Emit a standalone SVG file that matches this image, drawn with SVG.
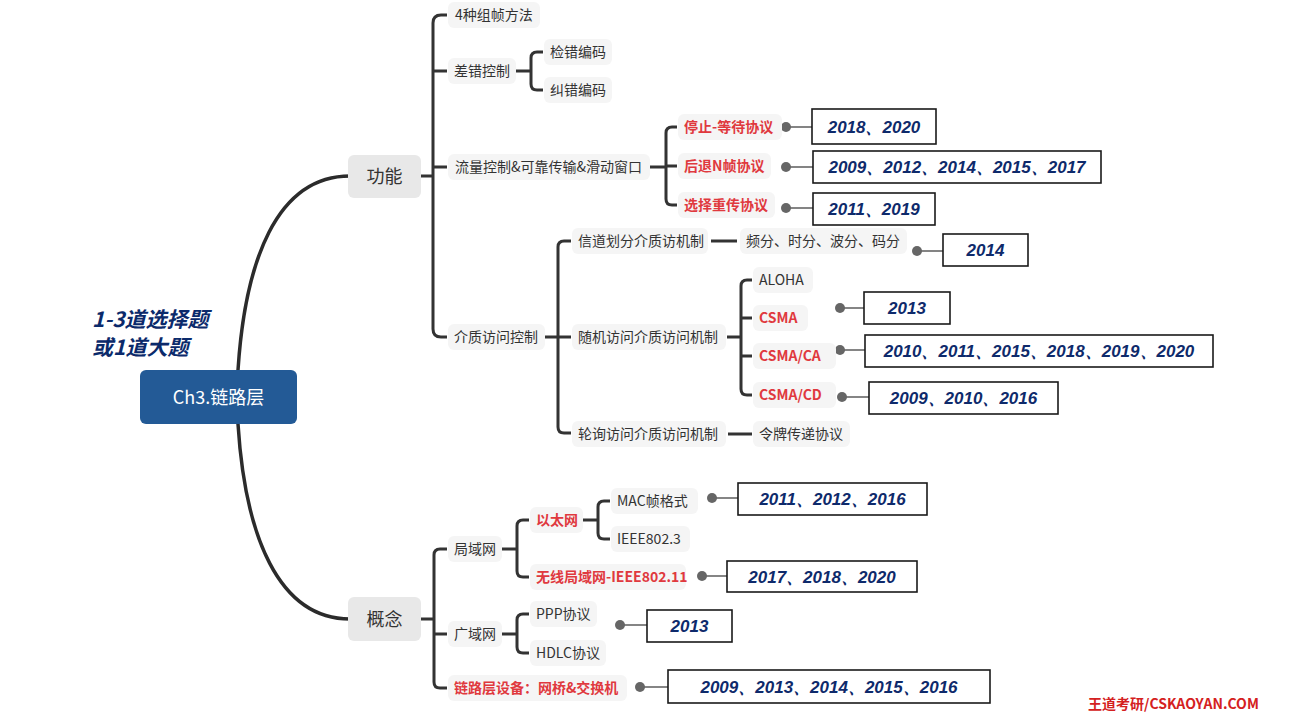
<svg xmlns="http://www.w3.org/2000/svg" width="1314" height="712" viewBox="0 0 1314 712">
<style>
text{font-family:"Noto Sans CJK SC","Liberation Sans",sans-serif}
.lb{fill:#f5f5f5}
.t{font-size:14px;fill:#333}
.r{font-size:14px;fill:#e0393e;font-weight:bold}
.mid{font-size:18px;fill:#333}
.br{fill:none;stroke:#333;stroke-width:3;stroke-linejoin:round}
.trunk{fill:none;stroke:#2b2b2b;stroke-width:3.5}
.dl{stroke:#666;stroke-width:1.6}
.dot{fill:#666}
.yb{fill:#fff;stroke:#1a1a1a;stroke-width:1.6}
.yt{font-family:"Liberation Sans",sans-serif;font-size:17px;font-weight:bold;font-style:italic;fill:#0e2a6b;text-anchor:middle}
</style>
<rect width="1314" height="712" fill="#fff"/>
<g id="connectors">
<path class="trunk" d="M238,370 C245,262 276,176 350,176"/>
<path class="trunk" d="M238,424 C245,535 278,619 350,619"/>
<path class="br" d="M421,176 H433 M447,15 H441 Q433,15 433,23 V329 Q433,337 441,337 H447 M433,71 H447 M433,167 H447"/>
<path class="br" d="M516,71 H531 M543,52 H537 Q531,52 531,58 V84 Q531,90 537,90 H543"/>
<path class="br" d="M650,167 H666 M677,127 H672 Q666,127 666,133 V199 Q666,205 672,205 H677 M666,166 H677"/>
<path class="br" d="M545,337 H558 M571,241 H564 Q558,241 558,247 V427 Q558,433 564,433 H571 M558,337 H571"/>
<path class="br" d="M711,241 H737"/>
<path class="br" d="M727,337 H741 M752,280 H747 Q741,280 741,286 V389 Q741,395 747,395 H752 M741,318 H752 M741,356 H752"/>
<path class="br" d="M728,434 H752"/>
<path class="br" d="M421,619 H434 M447,549 H440 Q434,549 434,555 V682 Q434,688 440,688 H447 M434,634 H447"/>
<path class="br" d="M502,549 H517 M529,520 H523 Q517,520 517,526 V571 Q517,577 523,577 H529"/>
<path class="br" d="M583,520 H598 M610,501 H604 Q598,501 598,507 V533 Q598,539 604,539 H610"/>
<path class="br" d="M502,634 H517 M529,614 H523 Q517,614 517,620 V647 Q517,653 523,653 H529"/>
<g>
<line class="dl" x1="786" y1="127" x2="812" y2="127"/><circle class="dot" cx="786" cy="127" r="5"/>
<line class="dl" x1="786" y1="167" x2="813" y2="167"/><circle class="dot" cx="786" cy="167" r="5"/>
<line class="dl" x1="786" y1="208" x2="813" y2="208"/><circle class="dot" cx="786" cy="208" r="5"/>
<line class="dl" x1="917" y1="251" x2="943" y2="251"/><circle class="dot" cx="917" cy="251" r="5"/>
<line class="dl" x1="840" y1="308" x2="864" y2="308"/><circle class="dot" cx="840" cy="308" r="5"/>
<line class="dl" x1="840" y1="350" x2="865" y2="350"/><circle class="dot" cx="840" cy="350" r="5"/>
<line class="dl" x1="842" y1="397" x2="869" y2="397"/><circle class="dot" cx="842" cy="397" r="5"/>
<line class="dl" x1="712" y1="498" x2="738" y2="498"/><circle class="dot" cx="712" cy="498" r="5"/>
<line class="dl" x1="702" y1="576" x2="727" y2="576"/><circle class="dot" cx="702" cy="576" r="5"/>
<line class="dl" x1="620" y1="625" x2="647" y2="625"/><circle class="dot" cx="620" cy="625" r="5"/>
<line class="dl" x1="640" y1="687" x2="668" y2="687"/><circle class="dot" cx="640" cy="687" r="5"/>
</g>
</g>
<g id="root"><rect x="140" y="370" width="157" height="54" rx="6" fill="#235a96"/><text x="218.5" y="403.5" font-size="18" fill="#fff" text-anchor="middle">Ch3.链路层</text></g>
<g id="note"><text x="92" y="327" font-size="21" font-weight="bold" font-style="italic" fill="#0b2a6b">1-3道选择题</text><text x="92" y="355" font-size="21" font-weight="bold" font-style="italic" fill="#0b2a6b">或1道大题</text></g>
<g id="gongneng"><rect x="348" y="155" width="73" height="43" rx="6" fill="#e8e8e8"/><text class="mid" x="384.5" y="182.5" text-anchor="middle">功能</text></g>
<g id="gainian"><rect x="348" y="597" width="73" height="44" rx="6" fill="#e8e8e8"/><text class="mid" x="384.5" y="625.5" text-anchor="middle">概念</text></g>
<g id="f1"><rect class="lb" x="448" y="2" width="92" height="26" rx="6"/><text class="t" x="455" y="20">4种组帧方法</text></g>
<g id="f2"><rect class="lb" x="448" y="58" width="68" height="26" rx="6"/><text class="t" x="454" y="76">差错控制</text></g>
<g id="f2a"><rect class="lb" x="544" y="39" width="68" height="26" rx="6"/><text class="t" x="550" y="57">检错编码</text></g>
<g id="f2b"><rect class="lb" x="544" y="77" width="68" height="26" rx="6"/><text class="t" x="550" y="95">纠错编码</text></g>
<g id="f3"><rect class="lb" x="448" y="154" width="202" height="26" rx="6"/><text class="t" x="455" y="172">流量控制&amp;可靠传输&amp;滑动窗口</text></g>
<g id="f3a"><rect class="lb" x="678" y="114" width="104" height="26" rx="6"/><text class="r" x="684" y="132">停止-等待协议</text></g>
<g id="f3b"><rect class="lb" x="678" y="153" width="93" height="26" rx="6"/><text class="r" x="684" y="171">后退N帧协议</text></g>
<g id="f3c"><rect class="lb" x="678" y="192" width="97" height="26" rx="6"/><text class="r" x="684" y="210">选择重传协议</text></g>
<g id="f4"><rect class="lb" x="448" y="324" width="97" height="26" rx="6"/><text class="t" x="454" y="342">介质访问控制</text></g>
<g id="f4a"><rect class="lb" x="572" y="228" width="136" height="26" rx="6"/><text class="t" x="578" y="246">信道划分介质访机制</text></g>
<g id="f4a1"><rect class="lb" x="740" y="228" width="167" height="26" rx="6"/><text class="t" x="746" y="246">频分、时分、波分、码分</text></g>
<g id="f4b"><rect class="lb" x="572" y="324" width="154" height="26" rx="6"/><text class="t" x="578" y="342">随机访问介质访问机制</text></g>
<g id="f4b1"><rect class="lb" x="753" y="267" width="60" height="26" rx="6"/><text class="t" x="759" y="285">ALOHA</text></g>
<g id="f4b2"><rect class="lb" x="753" y="305" width="55" height="26" rx="6"/><text class="r" x="759" y="323">CSMA</text></g>
<g id="f4b3"><rect class="lb" x="753" y="343" width="83" height="26" rx="6"/><text class="r" x="759" y="361">CSMA/CA</text></g>
<g id="f4b4"><rect class="lb" x="753" y="382" width="83" height="26" rx="6"/><text class="r" x="759" y="400">CSMA/CD</text></g>
<g id="f4c"><rect class="lb" x="572" y="421" width="154" height="26" rx="6"/><text class="t" x="578" y="439">轮询访问介质访问机制</text></g>
<g id="f4c1"><rect class="lb" x="753" y="421" width="97" height="26" rx="6"/><text class="t" x="759" y="439">令牌传递协议</text></g>
<g id="c1"><rect class="lb" x="448" y="536" width="54" height="26" rx="6"/><text class="t" x="454" y="554">局域网</text></g>
<g id="c1a"><rect class="lb" x="530" y="507" width="53" height="26" rx="6"/><text class="r" x="536" y="525">以太网</text></g>
<g id="c1a1"><rect class="lb" x="611" y="488" width="87" height="26" rx="6"/><text class="t" x="617" y="506">MAC帧格式</text></g>
<g id="c1a2"><rect class="lb" x="611" y="526" width="79" height="26" rx="6"/><text class="t" x="617" y="544">IEEE802.3</text></g>
<g id="c1b"><rect class="lb" x="530" y="564" width="156" height="26" rx="6"/><text class="r" x="536" y="582">无线局域网-IEEE802.11</text></g>
<g id="c2"><rect class="lb" x="448" y="621" width="54" height="26" rx="6"/><text class="t" x="454" y="639">广域网</text></g>
<g id="c2a"><rect class="lb" x="530" y="601" width="67" height="26" rx="6"/><text class="t" x="536" y="619">PPP协议</text></g>
<g id="c2b"><rect class="lb" x="530" y="640" width="76" height="26" rx="6"/><text class="t" x="536" y="658">HDLC协议</text></g>
<g id="c3"><rect class="lb" x="448" y="675" width="179" height="26" rx="6"/><text class="r" x="454" y="693">链路层设备：网桥&amp;交换机</text></g>
<g id="y1"><rect class="yb" x="812" y="109" width="124" height="35"/><text class="yt" x="874" y="133">2018、2020</text></g>
<g id="y2"><rect class="yb" x="813" y="151" width="288" height="32"/><text class="yt" x="957" y="173">2009、2012、2014、2015、2017</text></g>
<g id="y3"><rect class="yb" x="813" y="193" width="122" height="32"/><text class="yt" x="874" y="215">2011、2019</text></g>
<g id="y4"><rect class="yb" x="943" y="234" width="85" height="32"/><text class="yt" x="985.5" y="256">2014</text></g>
<g id="y5"><rect class="yb" x="864" y="292" width="86" height="32"/><text class="yt" x="907" y="314">2013</text></g>
<g id="y6"><rect class="yb" x="865" y="335" width="348" height="32"/><text class="yt" x="1039" y="357">2010、2011、2015、2018、2019、2020</text></g>
<g id="y7"><rect class="yb" x="869" y="382" width="189" height="32"/><text class="yt" x="963.5" y="404">2009、2010、2016</text></g>
<g id="y8"><rect class="yb" x="738" y="483" width="189" height="32"/><text class="yt" x="832.5" y="505">2011、2012、2016</text></g>
<g id="y9"><rect class="yb" x="727" y="561" width="190" height="31"/><text class="yt" x="822" y="583">2017、2018、2020</text></g>
<g id="y10"><rect class="yb" x="647" y="610" width="85" height="32"/><text class="yt" x="689.5" y="632">2013</text></g>
<g id="y11"><rect class="yb" x="668" y="670" width="322" height="33"/><text class="yt" x="829" y="693">2009、2013、2014、2015、2016</text></g>
<g id="footer"><text x="1088" y="709" font-size="14" font-weight="bold" fill="#d42020">王道考研/CSKAOYAN.COM</text></g>
</svg>
